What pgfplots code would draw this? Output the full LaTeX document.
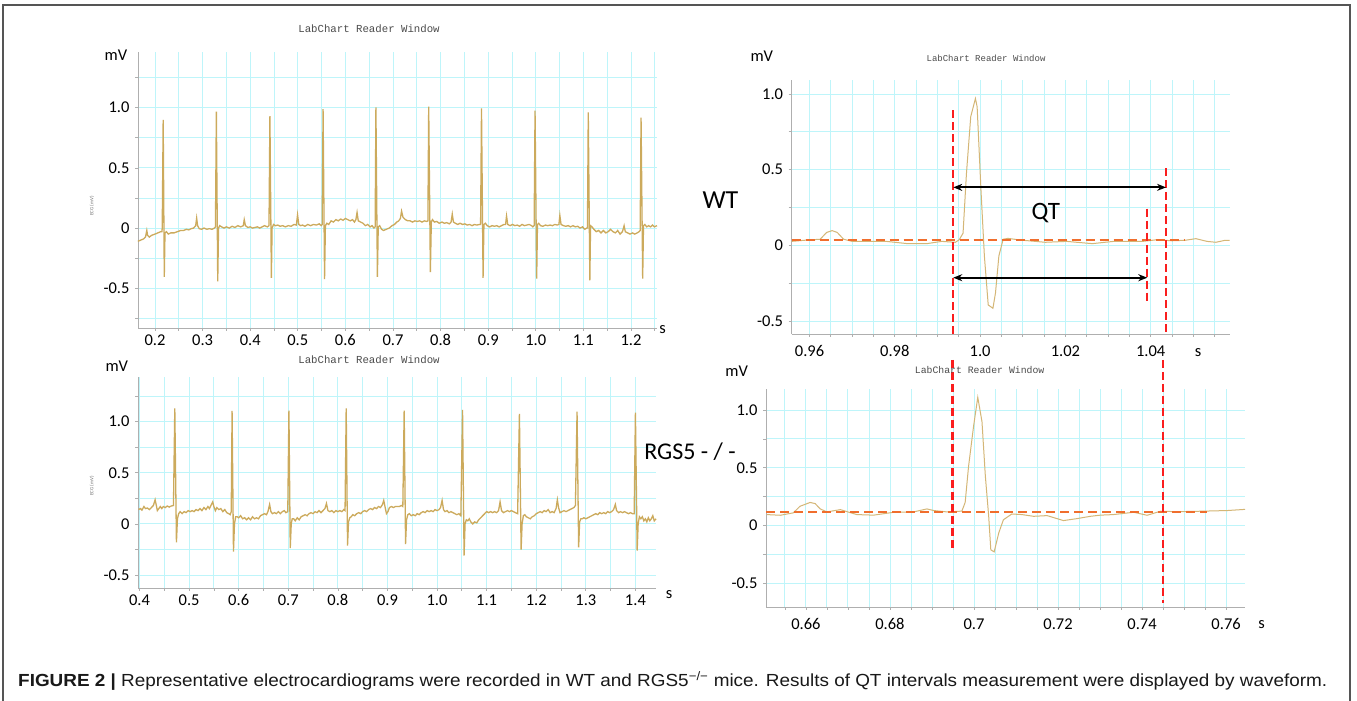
\documentclass[border=0pt]{standalone}
\usepackage{fontspec}
\setmainfont{Carlito}
\newfontfamily\capfont{Liberation Sans}
\newfontfamily\labfont{Liberation Mono}
\usepackage{graphicx}
\usepackage{pgfplots}
\pgfplotsset{compat=1.18}
\usetikzlibrary{arrows.meta}
\definecolor{gridc}{RGB}{190,245,250}
\definecolor{ecg}{RGB}{204,170,92}
\definecolor{ecgl}{RGB}{212,182,118}
\definecolor{redl}{RGB}{250,30,30}
\definecolor{orl}{RGB}{240,110,45}
\definecolor{axg}{RGB}{175,175,175}
\definecolor{frame}{RGB}{85,85,85}
\pgfplotsset{
  ecgaxis/.style={
    scale only axis, anchor=south west, clip=false,
    axis x line=bottom, axis y line=left,
    axis line style={-, draw=axg, line width=0.9pt},
    grid=both,
    major grid style={draw=gridc, line width=0.9pt},
    minor grid style={draw=gridc, line width=0.9pt},
    tick style={draw=axg, line width=0.7pt},
    major tick length=3pt, minor tick length=3pt,
    tick align=outside,
    ticklabel style={font=\fontsize{16.5}{17}\selectfont, text=black},
    yticklabel style={xshift=-2pt},
  }
}
\begin{document}
\begin{tikzpicture}[x=1pt,y=1pt]
\path[use as bounding box] (0,0) rectangle (1357,701);
\fill[white] (0,0) rectangle (1357,701);
% outer frame
\draw[frame, line width=1.4pt] (3,0) -- (3,696) -- (1350,696) -- (1350,0);

% ---------------- Panel A (WT overview) ----------------
\begin{axis}[ecgaxis, at={(138pt,373pt)}, width=519pt, height=276pt,
  xmin=0.1643, xmax=1.2546, ymin=-0.83, ymax=1.4626,
  xtick={0.2,0.3,0.4,0.5,0.6,0.7,0.8,0.9,1.0,1.1,1.2},
  xticklabels={0.2,0.3,0.4,0.5,0.6,0.7,0.8,0.9,1.0,1.1,1.2},
  minor xtick={0.25,0.35,0.45,0.55,0.65,0.75,0.85,0.95,1.05,1.15,1.25},
  ytick={-0.5,0,0.5,1}, yticklabels={-0.5,0,0.5,1.0},
  minor ytick={-0.75,-0.25,0.25,0.75,1.25}]
\addplot[ecg, line width=1.3pt] coordinates {
(0.164,-0.11) (0.170,-0.10) (0.176,-0.09) (0.180,-0.075) (0.1828,-0.02) (0.1845,-0.06) (0.188,-0.075) (0.193,-0.06) (0.200,-0.05) (0.206,-0.04) (0.212,-0.03) (0.2145,-0.03)
(0.2152,0.0) (0.2172,0.898) (0.2195,-0.406) (0.221,-0.04) (0.224,-0.03)
(0.228,-0.05) (0.233,-0.04) (0.240,-0.04) (0.247,-0.03) (0.254,-0.02) (0.260,-0.02) (0.266,-0.01) (0.271,-0.015) (0.276,-0.005) (0.281,0.0) (0.2855,0.02) (0.2875,0.083) (0.2895,0.02) (0.293,-0.005) (0.298,-0.01) (0.303,0.0) (0.309,-0.01) (0.314,-0.005) (0.320,-0.01) (0.325,0.0)
(0.327,0.01) (0.3289,0.967) (0.3318,-0.442) (0.3335,0.0) (0.336,0.02)
(0.340,0.01) (0.345,0.0) (0.350,0.01) (0.356,0.0) (0.362,0.015) (0.368,0.005) (0.374,0.02) (0.380,0.01) (0.3855,0.02) (0.3875,0.07) (0.390,0.02) (0.395,0.005) (0.400,0.01) (0.405,0.0) (0.410,0.005) (0.415,0.01) (0.420,0.0) (0.425,0.01) (0.430,0.02) (0.436,0.01)
(0.4395,0.02) (0.4414,0.93) (0.4445,-0.414) (0.446,0.0) (0.449,0.03)
(0.453,0.02) (0.458,0.025) (0.463,0.015) (0.468,0.02) (0.474,0.01) (0.480,0.02) (0.486,0.015) (0.492,0.03) (0.497,0.025) (0.4995,0.11) (0.502,0.03) (0.506,0.02) (0.510,0.025) (0.515,0.015) (0.521,0.03) (0.527,0.02) (0.533,0.03) (0.539,0.025) (0.545,0.035) (0.549,0.02)
(0.5512,0.03) (0.5531,0.989) (0.5562,-0.423) (0.558,0.02) (0.561,0.04)
(0.565,0.03) (0.570,0.06) (0.575,0.05) (0.580,0.07) (0.585,0.06) (0.590,0.075) (0.595,0.065) (0.600,0.08) (0.605,0.07) (0.610,0.06) (0.615,0.07) (0.619,0.05) (0.622,0.07) (0.6245,0.13) (0.627,0.06) (0.632,0.05) (0.637,0.04) (0.642,0.02) (0.647,0.03) (0.652,0.01) (0.656,0.02) (0.660,0.0)
(0.6625,0.01) (0.6641,1.003) (0.6672,-0.406) (0.669,0.01) (0.672,0.02)
(0.676,-0.01) (0.680,-0.02) (0.686,-0.01) (0.692,0.0) (0.698,0.02) (0.703,0.03) (0.708,0.05) (0.712,0.06) (0.7155,0.08) (0.718,0.14) (0.721,0.09) (0.726,0.07) (0.731,0.06) (0.736,0.06) (0.741,0.05) (0.746,0.06) (0.751,0.055) (0.756,0.06) (0.761,0.05) (0.766,0.06) (0.771,0.055)
(0.7733,0.06) (0.775,1.008) (0.7785,-0.365) (0.7805,0.05) (0.783,0.07)
(0.787,0.05) (0.792,0.055) (0.797,0.04) (0.803,0.05) (0.808,0.04) (0.813,0.045) (0.8185,0.035) (0.822,0.05) (0.8245,0.116) (0.827,0.05) (0.831,0.04) (0.836,0.03) (0.841,0.04) (0.846,0.03) (0.851,0.035) (0.856,0.025) (0.861,0.03) (0.866,0.02) (0.871,0.03) (0.876,0.025) (0.882,0.03)
(0.884,0.03) (0.8859,0.994) (0.8892,-0.414) (0.891,0.03) (0.894,0.04)
(0.898,0.02) (0.903,0.01) (0.908,0.02) (0.913,0.015) (0.918,0.02) (0.923,0.01) (0.928,0.02) (0.933,0.03) (0.9365,0.03) (0.9385,0.10) (0.941,0.03) (0.946,0.02) (0.951,0.03) (0.956,0.02) (0.961,0.025) (0.966,0.015) (0.971,0.03) (0.976,0.02) (0.981,0.025) (0.986,0.03) (0.991,0.02) (0.994,0.01)
(0.9965,0.02) (0.9984,0.975) (1.0018,-0.42) (1.0035,0.03) (1.006,0.04)
(1.010,0.02) (1.015,0.015) (1.020,0.025) (1.025,0.02) (1.030,0.025) (1.035,0.02) (1.040,0.03) (1.045,0.025) (1.0485,0.03) (1.0505,0.105) (1.053,0.03) (1.058,0.02) (1.063,0.015) (1.068,0.02) (1.073,0.01) (1.078,0.02) (1.083,0.01) (1.088,0.015) (1.093,0.0) (1.098,0.01) (1.103,-0.01) (1.107,0.0)
(1.1085,0.0) (1.1102,0.961) (1.1135,-0.434) (1.115,0.02) (1.118,0.01)
(1.122,-0.01) (1.127,-0.03) (1.132,-0.02) (1.137,-0.04) (1.142,-0.02) (1.147,-0.04) (1.152,-0.03) (1.157,-0.01) (1.162,-0.03) (1.167,-0.04) (1.172,-0.02) (1.177,-0.05) (1.182,-0.03) (1.1855,0.02) (1.188,-0.03) (1.193,-0.04) (1.198,-0.05) (1.203,-0.04) (1.208,-0.05) (1.213,-0.04) (1.217,-0.03)
(1.2192,-0.02) (1.2211,0.917) (1.2245,-0.42) (1.2262,0.02) (1.229,0.03)
(1.233,0.01) (1.237,0.02) (1.241,0.01) (1.245,0.025) (1.249,0.01) (1.2546,0.02)
};
\end{axis}

% ---------------- Panel B (RGS5 overview) ----------------
\begin{axis}[ecgaxis, at={(138pt,113pt)}, width=518pt, height=211pt,
  xmin=0.397, xmax=1.4415, ymin=-0.627, ymax=1.437,
  xtick={0.4,0.5,0.6,0.7,0.8,0.9,1.0,1.1,1.2,1.3,1.4},
  xticklabels={0.4,0.5,0.6,0.7,0.8,0.9,1.0,1.1,1.2,1.3,1.4},
  minor xtick={0.45,0.55,0.65,0.75,0.85,0.95,1.05,1.15,1.25,1.35},
  ytick={-0.5,0,0.5,1}, yticklabels={-0.5,0,0.5,1.0},
  minor ytick={-0.25,0.25,0.75,1.25}]
\addplot[ecg, line width=1.3pt] coordinates {
(0.398,0.14) (0.402,0.15) (0.405,0.135) (0.409,0.17) (0.412,0.15) (0.416,0.155) (0.420,0.14) (0.424,0.16) (0.428,0.18) (0.4315,0.236) (0.434,0.18) (0.436,0.13) (0.439,0.15) (0.442,0.17) (0.445,0.15) (0.448,0.17) (0.452,0.16) (0.456,0.175) (0.460,0.165) (0.464,0.175) (0.4685,0.18)
(0.4712,1.131) (0.4745,-0.18) (0.4765,0.05) (0.479,0.10)
(0.482,0.12) (0.486,0.10) (0.490,0.12) (0.494,0.11) (0.498,0.13) (0.502,0.12) (0.506,0.13) (0.510,0.12) (0.514,0.14) (0.518,0.13) (0.522,0.15) (0.526,0.13) (0.530,0.16) (0.534,0.14) (0.538,0.17) (0.541,0.15) (0.545,0.19) (0.5477,0.215) (0.550,0.17) (0.553,0.13) (0.556,0.16) (0.560,0.14) (0.564,0.15) (0.568,0.12) (0.572,0.14) (0.576,0.11) (0.580,0.10) (0.583,0.09) (0.585,0.12)
(0.5867,1.105) (0.5895,-0.27) (0.5915,0.0) (0.594,0.07)
(0.597,0.07) (0.600,0.06) (0.604,0.08) (0.608,0.05) (0.612,0.06) (0.616,0.04) (0.620,0.06) (0.624,0.04) (0.628,0.07) (0.632,0.05) (0.636,0.06) (0.640,0.05) (0.644,0.08) (0.648,0.09) (0.652,0.10) (0.656,0.09) (0.659,0.12) (0.6624,0.19) (0.665,0.12) (0.668,0.10) (0.672,0.11) (0.676,0.10) (0.680,0.12) (0.684,0.10) (0.688,0.12) (0.692,0.13) (0.695,0.11) (0.699,0.12)
(0.7013,1.108) (0.704,-0.236) (0.706,0.0) (0.708,0.05)
(0.711,0.05) (0.714,0.03) (0.718,0.06) (0.722,0.04) (0.726,0.07) (0.730,0.08) (0.734,0.09) (0.738,0.08) (0.742,0.10) (0.746,0.11) (0.750,0.10) (0.754,0.12) (0.758,0.11) (0.762,0.13) (0.766,0.11) (0.770,0.13) (0.774,0.15) (0.777,0.20) (0.780,0.13) (0.784,0.12) (0.788,0.13) (0.792,0.11) (0.796,0.13) (0.800,0.12) (0.804,0.13) (0.808,0.12) (0.812,0.14) (0.8145,0.13)
(0.8168,1.131) (0.8195,-0.213) (0.8215,0.02) (0.824,0.06)
(0.827,0.07) (0.830,0.09) (0.834,0.08) (0.838,0.10) (0.842,0.11) (0.846,0.10) (0.850,0.12) (0.854,0.13) (0.858,0.12) (0.862,0.14) (0.866,0.15) (0.870,0.14) (0.874,0.16) (0.878,0.15) (0.882,0.17) (0.886,0.16) (0.890,0.19) (0.8925,0.23) (0.895,0.17) (0.898,0.10) (0.901,0.12) (0.904,0.16) (0.908,0.17) (0.912,0.16) (0.916,0.17) (0.920,0.17) (0.924,0.17) (0.928,0.18) (0.931,0.17)
(0.9337,1.108) (0.9365,-0.197) (0.9385,0.04) (0.941,0.09)
(0.944,0.10) (0.948,0.08) (0.952,0.09) (0.956,0.08) (0.960,0.10) (0.964,0.09) (0.968,0.11) (0.972,0.12) (0.976,0.11) (0.980,0.13) (0.984,0.12) (0.988,0.13) (0.992,0.12) (0.996,0.14) (1.000,0.13) (1.004,0.14) (1.007,0.16) (1.0102,0.23) (1.013,0.14) (1.016,0.12) (1.020,0.13) (1.024,0.11) (1.028,0.12) (1.032,0.11) (1.036,0.10) (1.040,0.09) (1.044,0.10) (1.048,0.08)
(1.0514,1.115) (1.0545,-0.31) (1.0565,0.0) (1.059,0.04)
(1.062,0.03) (1.065,0.05) (1.068,0.02) (1.072,0.0) (1.076,0.02) (1.080,0.01) (1.084,0.04) (1.088,0.06) (1.092,0.08) (1.096,0.10) (1.100,0.12) (1.104,0.11) (1.108,0.12) (1.112,0.11) (1.116,0.12) (1.120,0.11) (1.124,0.13) (1.1271,0.216) (1.130,0.13) (1.134,0.11) (1.138,0.12) (1.142,0.13) (1.146,0.12) (1.150,0.13) (1.154,0.12) (1.158,0.11) (1.1625,0.10)
(1.1661,1.075) (1.1695,-0.252) (1.1715,0.0) (1.174,0.08)
(1.177,0.09) (1.180,0.07) (1.184,0.06) (1.188,0.05) (1.192,0.07) (1.196,0.08) (1.200,0.10) (1.204,0.11) (1.208,0.12) (1.212,0.11) (1.216,0.13) (1.220,0.12) (1.224,0.14) (1.228,0.11) (1.232,0.12) (1.236,0.11) (1.240,0.15) (1.2426,0.236) (1.245,0.16) (1.248,0.11) (1.252,0.12) (1.256,0.13) (1.260,0.12) (1.264,0.13) (1.268,0.14) (1.272,0.15) (1.276,0.16) (1.279,0.18)
(1.2823,1.098) (1.2855,-0.23) (1.2875,0.02) (1.290,0.05)
(1.293,0.05) (1.296,0.06) (1.300,0.05) (1.304,0.06) (1.308,0.07) (1.312,0.08) (1.316,0.09) (1.320,0.10) (1.324,0.09) (1.328,0.11) (1.332,0.10) (1.336,0.11) (1.340,0.10) (1.344,0.12) (1.348,0.11) (1.352,0.12) (1.356,0.14) (1.3595,0.19) (1.362,0.13) (1.366,0.11) (1.370,0.12) (1.374,0.11) (1.378,0.12) (1.382,0.11) (1.386,0.10) (1.390,0.11) (1.394,0.10) (1.3975,0.10)
(1.400,1.089) (1.4035,-0.262) (1.4055,0.0) (1.408,0.07)
(1.411,0.05) (1.414,0.07) (1.417,0.03) (1.420,0.05) (1.423,0.02) (1.426,0.06) (1.429,0.03) (1.432,0.05) (1.435,0.08) (1.438,0.03) (1.4415,0.05)
};
\end{axis}

% ---------------- Panel C (WT zoom) ----------------
\begin{axis}[ecgaxis, at={(791.6pt,367pt)}, width=438pt, height=254pt,
  xmin=0.9558, xmax=1.0585, ymin=-0.586, ymax=1.0925,
  xtick={0.96,0.98,1.0,1.02,1.04},
  xticklabels={0.96,0.98,1.0,1.02,1.04},
  minor xtick={0.965,0.97,0.975,0.985,0.99,0.995,1.005,1.01,1.015,1.025,1.03,1.035,1.045,1.05,1.055},
  ytick={-0.5,0,0.5,1}, yticklabels={-0.5,0,0.5,1.0},
  minor ytick={-0.25,0.25,0.75},
  xticklabel style={yshift=-5pt}]
\addplot[ecgl, line width=1pt] coordinates {
(0.9558,0.026) (0.9595,0.035) (0.9625,0.04) (0.964,0.085) (0.9653,0.097) (0.9665,0.085) (0.968,0.04) (0.970,0.026) (0.978,0.026) (0.983,0.011) (0.9875,0.011) (0.991,0.026) (0.9942,0.02) (0.9951,0.037) (0.996,0.08) (0.9968,0.476) (0.9978,0.85) (0.9989,0.97) (0.9993,0.916) (1.0002,0.366) (1.001,-0.07) (1.0019,-0.394) (1.003,-0.416) (1.0036,-0.316) (1.0044,-0.07) (1.0054,0.04) (1.0065,0.046) (1.0094,0.035) (1.0153,0.02) (1.0203,0.026) (1.0263,0.011) (1.0313,0.026) (1.0381,0.026) (1.0415,0.037) (1.045,0.03) (1.048,0.033) (1.0506,0.044) (1.0532,0.026) (1.0553,0.02) (1.0574,0.033) (1.0585,0.033)
};
\draw[orl, line width=2.2pt, dash pattern=on 9pt off 5pt] (axis cs:0.9558,0.035) -- (axis cs:1.048,0.035);
\draw[redl, line width=2.2pt, dash pattern=on 8pt off 4pt] (axis cs:0.9937,0.894) -- (axis cs:0.9937,-0.586);
\draw[redl, line width=2.2pt, dash pattern=on 8pt off 4pt] (axis cs:1.0436,0.509) -- (axis cs:1.0436,-0.586);
\draw[redl, line width=2.2pt, dash pattern=on 8pt off 4pt] (axis cs:1.0392,0.243) -- (axis cs:1.0392,-0.372);
\draw[black, line width=1.8pt, {Stealth[length=9pt,width=7pt]}-{Stealth[length=9pt,width=7pt]}] (axis cs:0.9937,0.383) -- (axis cs:1.0436,0.383);
\draw[black, line width=1.8pt, {Stealth[length=9pt,width=7pt]}-{Stealth[length=9pt,width=7pt]}] (axis cs:0.9937,-0.214) -- (axis cs:1.0392,-0.214);
\node[font=\fontsize{25}{25}\selectfont] at (axis cs:1.0154,0.21) {QT};
\end{axis}

% ---------------- Panel D (RGS5 zoom) ----------------
\begin{axis}[ecgaxis, at={(766pt,94pt)}, width=479pt, height=218pt,
  xmin=0.6505, xmax=0.7645, ymin=-0.705, ymax=1.182,
  xtick={0.66,0.68,0.70,0.72,0.74,0.76},
  xticklabels={0.66,0.68,0.7,0.72,0.74,0.76},
  minor xtick={0.655,0.665,0.67,0.675,0.685,0.69,0.695,0.705,0.71,0.715,0.725,0.73,0.735,0.745,0.75,0.755},
  ytick={-0.5,0,0.5,1}, yticklabels={-0.5,0,0.5,1.0},
  minor ytick={-0.25,0.25,0.75},
  xticklabel style={yshift=-5pt}]
\addplot[ecgl, line width=1pt] coordinates {
(0.6507,0.095) (0.6539,0.089) (0.657,0.11) (0.6586,0.167) (0.661,0.2) (0.6622,0.19) (0.6634,0.144) (0.665,0.118) (0.6682,0.138) (0.6698,0.12) (0.6721,0.095) (0.6761,0.09) (0.6809,0.115) (0.6856,0.118) (0.6888,0.144) (0.6904,0.13) (0.6936,0.118) (0.6967,0.124) (0.6971,0.124) (0.6979,0.2) (0.6987,0.51) (0.6999,0.86) (0.7009,1.11) (0.7019,0.9) (0.7027,0.43) (0.7035,0.08) (0.704,-0.21) (0.7048,-0.228) (0.7059,-0.063) (0.707,0.05) (0.709,0.10) (0.7114,0.095) (0.7142,0.08) (0.7174,0.086) (0.7213,0.043) (0.7245,0.06) (0.7277,0.08) (0.7301,0.09) (0.7332,0.095) (0.738,0.115) (0.7412,0.089) (0.7444,0.124) (0.7483,0.12) (0.7539,0.124) (0.7603,0.13) (0.7645,0.14)
};
\draw[orl, line width=2.2pt, dash pattern=on 9pt off 5pt] (axis cs:0.6505,0.12) -- (axis cs:0.7555,0.12);
\draw[redl, line width=2.2pt, dash pattern=on 8pt off 4pt] (axis cs:0.6949,1.433) -- (axis cs:0.6949,-0.212);
\draw[redl, line width=2.2pt, dash pattern=on 8pt off 4pt] (axis cs:0.7449,1.433) -- (axis cs:0.7449,-0.671);
\end{axis}

% ---------------- texts ----------------
\def\lab{\labfont\color{black!70}LabChart Reader Window}
\node[font=\fontsize{10.7}{11}\selectfont] at (369,672.7) {\lab};
\node[font=\fontsize{10.7}{11}\selectfont] at (369,341) {\lab};
\node[font=\fontsize{9}{9}\selectfont] at (986,642.7) {\lab};
\node[font=\fontsize{9.8}{10}\selectfont] at (979.6,331) {\lab};

\node[font=\fontsize{16.5}{17}\selectfont] at (116,645.3) {mV};
\node[font=\fontsize{16.5}{17}\selectfont] at (116.8,335) {mV};
\node[font=\fontsize{16.5}{17}\selectfont] at (761.8,644.3) {mV};
\node[font=\fontsize{16.5}{17}\selectfont] at (736.7,329.3) {mV};

\node[font=\fontsize{16.5}{17}\selectfont] at (662.6,371) {s};
\node[font=\fontsize{16.5}{17}\selectfont] at (669,106) {s};
\node[font=\fontsize{16.5}{17}\selectfont] at (1198,348) {s};
\node[font=\fontsize{16.5}{17}\selectfont] at (1261.7,76) {s};

\node[font=\fontsize{5}{5}\selectfont, text=black!55, rotate=90] at (92,495) {ECG (mV)};
\node[font=\fontsize{5}{5}\selectfont, text=black!55, rotate=90] at (92,215) {ECG (mV)};

\node[font=\fontsize{26}{26}\selectfont] at (720.5,501) {WT};
\node[font=\fontsize{24}{24}\selectfont] at (690,249.3) {RGS5 - / -};

\node[anchor=west, inner sep=0pt, text=black!90] at (18,20.3) {\resizebox{1309pt}{\height}{\capfont\fontsize{17.5}{19}\selectfont\textbf{FIGURE 2 |} Representative electrocardiograms were recorded in WT and RGS5\textsuperscript{−/−} mice. Results of QT intervals measurement were displayed by waveform.}};
\end{tikzpicture}
\end{document}
